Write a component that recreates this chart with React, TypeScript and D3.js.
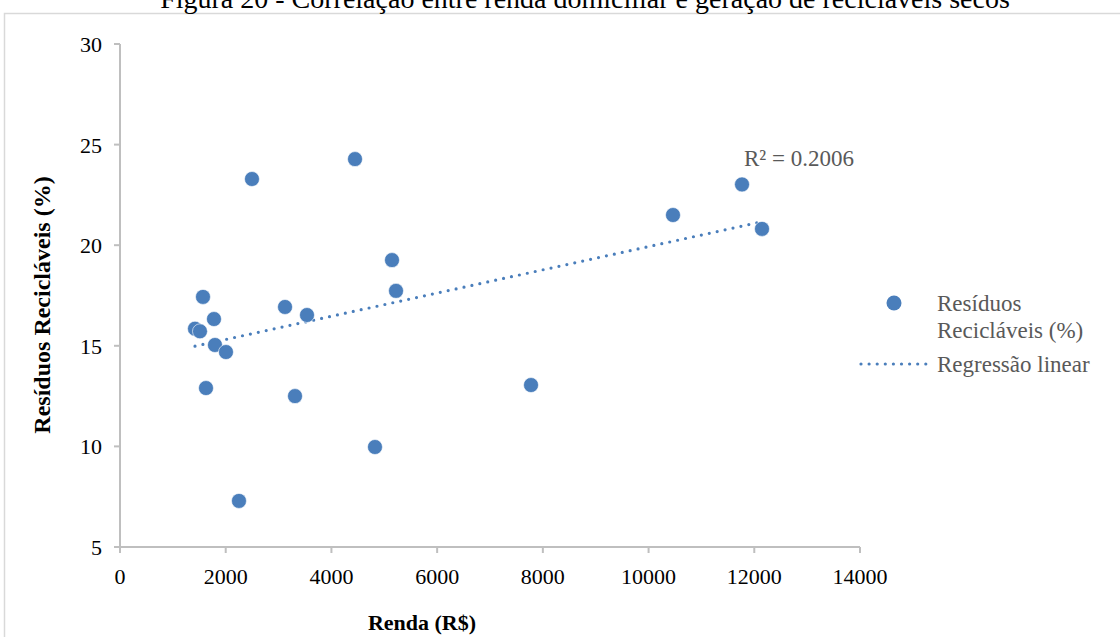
import React from "react";
import * as d3 from "d3";

const titleText = "Figura 20 - Correlação entre renda domiciliar e geração de recicláveis secos";
const renda = [1419, 1513, 1570, 1627, 1778, 1797, 2005, 2251, 2497, 3122, 3311, 3538, 4446, 4824, 5146, 5222, 7776, 10462, 11768, 12146];
const residuos = [15.85, 15.72, 17.43, 12.9, 16.33, 15.04, 14.69, 7.29, 23.29, 16.93, 12.5, 16.53, 24.28, 9.97, 19.26, 17.73, 13.05, 21.5, 23.02, 20.81];
const xTicks = [0, 2000, 4000, 6000, 8000, 10000, 12000, 14000];
const yTicks = [5, 10, 15, 20, 25, 30];
const r2Label = "R² = 0.2006";
const legendSeries = ["Resíduos", "Recicláveis (%)"];
const legendTrend = "Regressão linear";
const xTitle = "Renda (R$)";
const yTitle = "Resíduos Recicláveis (%)";

const FONT = "'Liberation Serif', 'Times New Roman', serif";
const BLUE = "#4A7EBB";

export default function App() {
  const x = d3.scaleLinear().domain([0, 14000]).range([120, 860]);
  const y = d3.scaleLinear().domain([5, 30]).range([547, 44]);

  const n = renda.length;
  const mx = d3.mean(renda) as number;
  const my = d3.mean(residuos) as number;
  let sxy = 0, sxx = 0;
  for (let i = 0; i < n; i++) {
    sxy += (renda[i] - mx) * (residuos[i] - my);
    sxx += (renda[i] - mx) ** 2;
  }
  const slope = sxy / sxx;
  const icpt = my - slope * mx;
  const [x0, x1] = d3.extent(renda) as [number, number];
  const line = d3.line<number>().x((d) => x(d)).y((d) => y(icpt + slope * d));

  return (
    <svg width={1120} height={637} style={{ position: "absolute", left: 0, top: 0, display: "block", background: "#fff" }} fontFamily={FONT}>
      <rect x={4.5} y={13.5} width={1130} height={640} fill="#fff" stroke="#D9D9D9" strokeWidth={1.5} />
      <text x={585} y={8} textAnchor="middle" fontSize={28} fill="#000">{titleText}</text>

      {/* Y axis */}
      <line x1={120} x2={120} y1={y(30)} y2={y(5)} stroke="#BFBFBF" strokeWidth={2} />
      {yTicks.map((t) => (
        <g key={"y" + t}>
          <line x1={114} x2={120} y1={y(t)} y2={y(t)} stroke="#BFBFBF" strokeWidth={2} />
          <text x={102} y={y(t) + 8} textAnchor="end" fontSize={22} fill="#000">{t}</text>
        </g>
      ))}
      {/* X axis */}
      <line x1={114} x2={860} y1={y(5)} y2={y(5)} stroke="#BFBFBF" strokeWidth={2} />
      {xTicks.map((t) => (
        <g key={"x" + t}>
          <line x1={x(t)} x2={x(t)} y1={y(5)} y2={y(5) + 6} stroke="#BFBFBF" strokeWidth={2} />
          <text x={x(t)} y={584} textAnchor="middle" fontSize={22} fill="#000">{t}</text>
        </g>
      ))}

      {/* trend line */}
      <path d={line([x0, x1]) || ""} fill="none" stroke={BLUE} strokeWidth={3.2} strokeLinecap="round" strokeDasharray="0 8.1" />

      {/* points */}
      {renda.map((r, i) => (
        <circle key={i} cx={x(r)} cy={y(residuos[i])} r={7.5} fill={BLUE} stroke="#fff" strokeWidth={0.6} />
      ))}

      <text x={744} y={166} fontSize={23} fill="#595959">{r2Label}</text>

      {/* legend */}
      <circle cx={894} cy={303} r={7.5} fill={BLUE} />
      <text x={937} y={311} fontSize={23} fill="#595959">{legendSeries[0]}</text>
      <text x={937} y={338} fontSize={23} fill="#595959">{legendSeries[1]}</text>
      <line x1={861} x2={930} y1={364} y2={364} stroke={BLUE} strokeWidth={3.2} strokeLinecap="round" strokeDasharray="0 8.1" />
      <text x={937} y={372} fontSize={23} fill="#595959">{legendTrend}</text>

      {/* axis titles */}
      <text x={422} y={630} textAnchor="middle" fontSize={22} fontWeight="bold" fill="#000">{xTitle}</text>
      <text transform={`translate(50,305) rotate(-90)`} textAnchor="middle" fontSize={24} fontWeight="bold" fill="#000">{yTitle}</text>
    </svg>
  );
}
